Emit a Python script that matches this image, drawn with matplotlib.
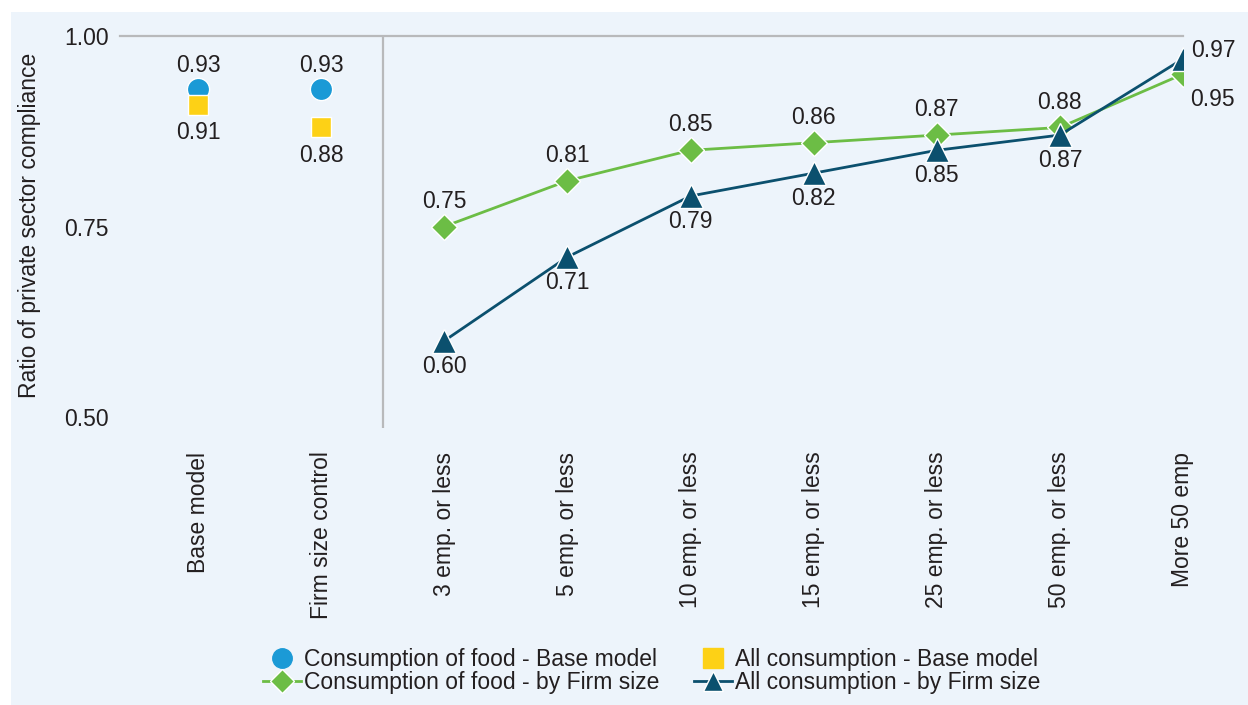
import matplotlib.pyplot as plt
from matplotlib.patches import Rectangle
from matplotlib.lines import Line2D

categorias = ['Base model', 'Firm size control', '3 emp. or less', '5 emp. or less',
              '10 emp. or less', '15 emp. or less', '25 emp. or less',
              '50 emp. or less', 'More 50 emp']

# modelos base (solo los dos primeros puntos)
comida_base = [0.93, 0.93]
todo_base = [0.91, 0.88]

# por tamaño de firma
comida_firma = [0.75, 0.81, 0.85, 0.86, 0.87, 0.88, 0.95]
todo_firma = [0.60, 0.71, 0.79, 0.82, 0.85, 0.87, 0.97]

c_azul = '#1b9ad6'
c_amarillo = '#fdd116'
c_verde = '#6cbd45'
c_oscuro = '#0b506e'
c_texto = '#231f20'

plt.rcParams['font.family'] = ['Liberation Sans', 'DejaVu Sans']

fig = plt.figure(figsize=(12.48, 7.05), dpi=100, facecolor='white')
fondo = Rectangle((11 / 1248, 0), 1, 1 - 12 / 705, transform=fig.transFigure,
                  facecolor='#edf4fb', edgecolor='none', zorder=-10)
fig.patches.append(fondo)

ax = fig.add_axes([120 / 1248, 1 - 428 / 705, (1183 - 120) / 1248, (428 - 36) / 705])
ax.set_facecolor('none')
ax.set_zorder(2)

x_base = [0, 1]
x_firma = list(range(2, 9))

ax.plot(x_base, comida_base, linestyle='none', marker='o', ms=16, color=c_azul,
        mec='white', mew=1, zorder=4)
ax.plot(x_base, todo_base, linestyle='none', marker='s', ms=15, color=c_amarillo,
        mec='white', mew=1, zorder=4)
ax.plot(x_firma, comida_firma, marker='D', ms=13, color=c_verde, lw=2,
        mec='white', mew=1, zorder=3)
ax.plot(x_firma, todo_firma, marker='^', ms=17, color=c_oscuro, lw=2,
        mec='white', mew=1, zorder=3)

fs = 16.5
# etiquetas
for x, v in zip(x_base, comida_base):
    ax.annotate('%.2f' % v, (x, v), xytext=(0, 9), textcoords='offset points',
                ha='center', va='bottom', fontsize=fs, color=c_texto)
for x, v in zip(x_base, todo_base):
    ax.annotate('%.2f' % v, (x, v), xytext=(0, -12), textcoords='offset points',
                ha='center', va='top', fontsize=fs, color=c_texto)
for i, (x, v) in enumerate(zip(x_firma, comida_firma)):
    if i == len(comida_firma) - 1:
        ax.annotate('%.2f' % v, (x, v), xytext=(5, -10), textcoords='offset points',
                    ha='left', va='top', fontsize=fs, color=c_texto)
    else:
        ax.annotate('%.2f' % v, (x, v), xytext=(0, 10), textcoords='offset points',
                    ha='center', va='bottom', fontsize=fs, color=c_texto)
for i, (x, v) in enumerate(zip(x_firma, todo_firma)):
    if i == len(todo_firma) - 1:
        ax.annotate('%.2f' % v, (x, v), xytext=(6, -2), textcoords='offset points',
                    ha='left', va='bottom', fontsize=fs, color=c_texto)
    else:
        ax.annotate('%.2f' % v, (x, v), xytext=(0, -10), textcoords='offset points',
                    ha='center', va='top', fontsize=fs, color=c_texto)

ax.set_xlim(-0.634, 8.0)
ax.set_ylim(0.4856, 1.0)
ax.set_yticks([0.5, 0.75, 1.0])
ax.set_yticklabels(['0.50', '0.75', '1.00'])
ax.set_xticks(range(len(categorias)))
ax.set_xticklabels(categorias, rotation=90)
ax.tick_params(axis='both', length=0, labelsize=fs, colors=c_texto)
ax.tick_params(axis='y', pad=8)
ax.tick_params(axis='x', pad=17)
for s in ax.spines.values():
    s.set_visible(False)
ax.axhline(1.0, color='#b8b9bb', lw=1.6, clip_on=False, zorder=1)
ax.axvline(1.5, color='#b8b9bb', lw=1.6, zorder=1)

fig.text(30 / 1248, 1 - 225 / 705, 'Ratio of private sector compliance', rotation=90,
         ha='center', va='center', fontsize=fs, color=c_texto)

# orden por columnas para que las filas queden como en el original
handles = [
    Line2D([], [], linestyle='none', marker='o', ms=14, color=c_azul),
    Line2D([], [], marker='D', ms=12, color=c_verde, lw=2, mec='white', mew=1),
    Line2D([], [], linestyle='none', marker='s', ms=14, color=c_amarillo),
    Line2D([], [], marker='^', ms=15, color=c_oscuro, lw=2, mec='white', mew=1),
]
etiquetas = ['Consumption of food - Base model', 'Consumption of food - by Firm size',
             'All consumption - Base model', 'All consumption - by Firm size']
leg = fig.legend(handles, etiquetas, ncol=2, loc='center', bbox_to_anchor=(652 / 1248, 1 - 671 / 705),
                 frameon=False, fontsize=fs, handlelength=1.65, handletextpad=0.15,
                 columnspacing=1.5, labelspacing=0.0, borderpad=0)
for t in leg.get_texts():
    t.set_color(c_texto)

fig.savefig('out.png', dpi=100, facecolor='white')
